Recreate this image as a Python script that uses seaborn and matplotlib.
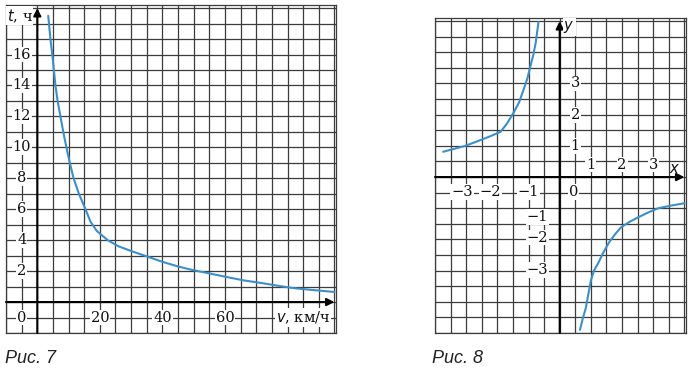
import numpy as np
import pandas as pd
import matplotlib.pyplot as plt
import seaborn as sns

# Рис. 7: time of travel vs speed
speed = [3.5, 4.2, 4.8, 5.8, 6.5, 7.4, 8.3, 9.3, 10.4, 11.6, 13.3, 15.4, 17, 19, 22.5,
         26, 30, 35, 40, 45, 49, 55, 61, 66, 72, 77, 82, 88, 95]
hours = [18.5, 17, 16, 14, 13, 12, 11, 10, 9, 8, 7, 6, 5.2, 4.6, 4,
         3.6, 3.3, 2.95, 2.6, 2.3, 2.1, 1.85, 1.6, 1.4, 1.22, 1.05, 0.9, 0.78, 0.65]
t_ticks = [2, 4, 6, 8, 10, 12, 14, 16]
v_ticks = [20, 40, 60]

# Рис. 8: two branches of the hyperbola
x_left = [-3.74, -3.4, -3.03, -2.5, -2.2, -1.9, -1.7, -1.48, -1.3, -1.16, -1.04,
          -0.94, -0.85, -0.77, -0.68]
y_left = [0.81, 0.9, 1.0, 1.2, 1.32, 1.45, 1.7, 2.06, 2.4, 2.8, 3.15,
          3.55, 3.9, 4.3, 4.97]
x_right = [0.65, 0.75, 0.84, 0.92, 1.0, 1.1, 1.23, 1.4, 1.58, 1.78, 1.97, 2.25, 2.52,
           2.85, 3.16, 3.6, 4.0]
y_right = [-4.9, -4.5, -4.19, -3.75, -3.32, -3.0, -2.77, -2.42, -2.1, -1.83, -1.61,
           -1.43, -1.29, -1.13, -1.0, -0.91, -0.84]
x_pos_ticks = [1, 2, 3]
x_neg_ticks = [-3, -2, -1]
y_pos_ticks = [1, 2, 3]
y_neg_ticks = [-1, -2, -3]

sns.set_style("white")
plt.rcParams['font.family'] = ['DejaVu Serif']

curve_color = '#3d8fc6'
grid_color = '#3c3c3c'
num_font = dict(fontsize=10.5, family='DejaVu Serif', color='#111111')
box = dict(facecolor='white', edgecolor='none', pad=0.6)

fig = plt.figure(figsize=(6.91, 3.70), dpi=100)
ax1 = fig.add_axes([0.0087, 0.1, 0.4776, 0.8865])
ax2 = fig.add_axes([0.6295, 0.1, 0.3632, 0.8514])


def setup_grid(ax, xlim, ylim, xstep, ystep):
    ax.set_xlim(*xlim)
    ax.set_ylim(*ylim)
    ax.set_xticks(np.arange(xlim[0], xlim[1] + 0.001, xstep))
    ax.set_yticks(np.arange(ylim[0], ylim[1] + 0.001, ystep))
    ax.tick_params(length=0, labelbottom=False, labelleft=False)
    ax.grid(True, color=grid_color, linewidth=0.9)
    for sp in ax.spines.values():
        sp.set_color(grid_color)
        sp.set_linewidth(0.9)


def draw_axis_arrows(ax, xlim, ylim):
    arrow = dict(arrowstyle='-|>', color='black', lw=1.5, mutation_scale=11,
                 shrinkA=0, shrinkB=0)
    ax.annotate('', xy=(xlim[1], 0), xytext=(xlim[0], 0), arrowprops=arrow)
    ax.annotate('', xy=(0, ylim[1]), xytext=(0, ylim[0]), arrowprops=arrow)


# ---- left chart ----
xl1, yl1 = (-10, 95.5), (-2, 19.2)
setup_grid(ax1, xl1, yl1, 5, 1)
draw_axis_arrows(ax1, (-10, 95), (-2, 19))
sns.lineplot(x=speed, y=hours, ax=ax1, color=curve_color, linewidth=1.5, sort=False)
for t in t_ticks:
    ax1.text(-5, t, str(t), ha='center', va='center', bbox=box, **num_font)
for v in v_ticks:
    ax1.text(v, -1, str(v), ha='center', va='center', bbox=box, **num_font)
ax1.text(-5, -1, '0', ha='center', va='center', bbox=box, **num_font)
ax1.text(93.5, -1, '$\\mathit{v}$, км/ч', ha='right', va='center', bbox=box, **num_font)
ax1.text(-1.5, 18.5, '$\\mathit{t}$, ч', ha='right', va='center', bbox=box, **num_font)

# ---- right chart ----
xl2, yl2 = (-4, 4.05), (-5, 5.1)
setup_grid(ax2, xl2, yl2, 0.5, 0.5)
draw_axis_arrows(ax2, (-4, 4.0), (-5, 5.0))
sns.lineplot(x=x_left, y=y_left, ax=ax2, color=curve_color, linewidth=1.5, sort=False)
sns.lineplot(x=x_right, y=y_right, ax=ax2, color=curve_color, linewidth=1.5, sort=False)
for x in x_pos_ticks:
    ax2.text(x, 0.4, str(x), ha='center', va='center', bbox=box, **num_font)
for x, xc in zip(x_neg_ticks, [-3.13, -2.23, -1.0]):
    ax2.text(xc, -0.48, '−' + str(-x), ha='center', va='center', bbox=box, **num_font)
for y in y_pos_ticks:
    ax2.text(0.5, y, str(y), ha='center', va='center', bbox=box, **num_font)
for y, yc in zip(y_neg_ticks, [-1.27, -1.94, -2.97]):
    ax2.text(-0.72, yc, '−' + str(-y), ha='center', va='center', bbox=box, **num_font)
ax2.text(0.45, -0.48, '0', ha='center', va='center', bbox=box, **num_font)
ax2.text(3.7, 0.27, '$\\mathit{x}$', ha='center', va='center', **num_font)
ax2.text(0.3, 4.8, '$\\mathit{y}$', ha='center', va='center', bbox=box, **num_font)

# captions
fig.text(5 / 691, 7 / 370, 'Рис. 7', ha='left', va='baseline', fontsize=13,
         family='Liberation Sans', style='italic', color='#222222')
fig.text(432 / 691, 7 / 370, 'Рис. 8', ha='left', va='baseline', fontsize=13,
         family='Liberation Sans', style='italic', color='#222222')

fig.savefig('out.png', dpi=100)
